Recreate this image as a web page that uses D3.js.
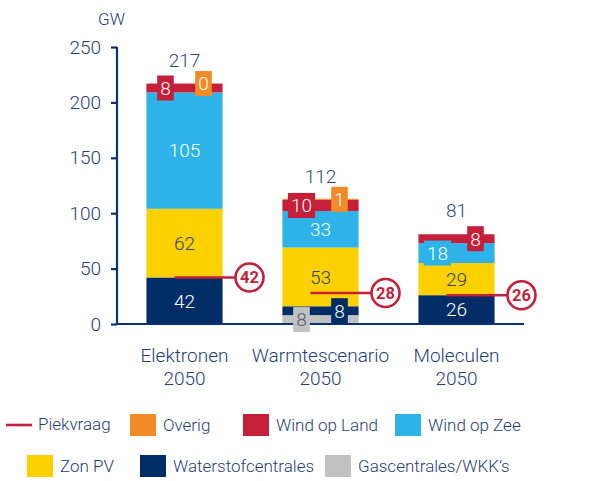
<!DOCTYPE html>
<html><head><meta charset="utf-8">
<script src="https://cdn.jsdelivr.net/npm/d3@7"></script>
<style>body{margin:0;background:#fff}svg{display:block;font-family:Roboto,"Liberation Sans",sans-serif;font-weight:300}</style>
</head><body>
<svg id="c" width="614" height="481"></svg>
<script>
const categories = ["Elektronen|2050", "Warmtescenario|2050", "Moleculen|2050"];
const seriesNames = ["Gascentrales/WKK’s", "Waterstofcentrales", "Zon PV", "Wind op Zee", "Wind op Land", "Overig"];
const gascentrales = [null, 8, null];
const waterstof = [42, 8, 26];
const zonPV = [62, 53, 29];
const windOpZee = [105, 33, 18];
const windOpLand = [8, 10, 8];
const overig = [0, 1, null];
const totals = [217, 112, 81];
const piekvraag = [42, 28, 26];
const yTicks = [0, 50, 100, 150, 200, 250];

const seriesValues = [gascentrales, waterstof, zonPV, windOpZee, windOpLand, overig];
const colors = ["#c1c1c1", "#002d66", "#fdd000", "#2db3e8", "#c61f3a", "#f28a26"];
const labelColors = ["#4d5d78", "#ffffff", "#2a4776", "#ffffff", "#ffffff", "#ffffff"];
const navyText = "#1f3e78";
const axisColor = "#0b3272";
const red = "#c61f3a";

const svg = d3.select("#c");
const x = d3.scaleBand().domain(categories).range([116.5, 524.5]).paddingInner(0.44).paddingOuter(0.22);
const y = d3.scaleLinear().domain([0, 250]).range([324, 47]);

const stackData = categories.map((c, i) => {
  const o = {cat: c, i};
  seriesNames.forEach((s, k) => o[s] = seriesValues[k][i] || 0);
  return o;
});
const stack = d3.stack().keys(seriesNames)(stackData);

const g = svg.append("g");
stack.forEach((layer, k) => {
  g.selectAll(null).data(layer).enter().append("rect")
    .attr("x", d => x(d.data.cat))
    .attr("width", x.bandwidth())
    .attr("y", d => y(d[1]))
    .attr("height", d => Math.max(0, y(d[0]) - y(d[1])))
    .attr("fill", colors[k]);
});

// axes
const yAxis = d3.axisLeft(y).tickValues(yTicks).tickSize(6).tickPadding(10);
const ya = svg.append("g").attr("transform", "translate(117,0)").call(yAxis);
ya.select(".domain").attr("stroke", axisColor).attr("stroke-width", 2.2).attr("d", "M0," + y(250) + "V" + y(0));
ya.selectAll(".tick line").attr("stroke", axisColor).attr("stroke-width", 2.2);
ya.selectAll(".tick text").attr("fill", navyText).attr("font-size", 19).attr("font-family", "Roboto").attr("font-weight", 300);
svg.append("line").attr("x1", 116).attr("x2", 524).attr("y1", y(0)).attr("y2", y(0))
  .attr("stroke", axisColor).attr("stroke-width", 2.2);
svg.append("text").attr("x", 98).attr("y", 25).attr("fill", navyText).attr("font-size", 17).text("GW");

// category labels
categories.forEach(c => {
  const parts = c.split("|");
  const t = svg.append("text").attr("text-anchor", "middle").attr("fill", navyText).attr("font-size", 19);
  t.append("tspan").attr("x", x(c) + x.bandwidth() / 2).attr("y", 361.5).text(parts[0]);
  t.append("tspan").attr("x", x(c) + x.bandwidth() / 2).attr("y", 385).text(parts[1]);
});

// segment labels
const lab = svg.append("g").attr("font-size", 19);
categories.forEach((c, i) => {
  const cx = x(c) + x.bandwidth() / 2;
  let side = -1;
  stack.forEach((layer, k) => {
    const v = seriesValues[k][i];
    if (v === null || v === undefined) return;
    const d = layer[i];
    const cy = (y(d[0]) + y(d[1])) / 2;
    if (v < 20) {
      const lx = cx + side * 19;
      side = -side;
      const tw = String(v).length * 10.6;
      lab.append("rect").attr("x", lx - tw / 2 - 3).attr("width", tw + 6)
        .attr("y", cy - 12.5).attr("height", 25).attr("fill", colors[k]);
      lab.append("text").attr("x", lx).attr("y", cy).attr("dy", "0.36em").attr("text-anchor", "middle")
        .attr("fill", labelColors[k]).text(v);
    } else {
      lab.append("text").attr("x", cx).attr("y", cy).attr("dy", "0.36em").attr("text-anchor", "middle")
        .attr("fill", labelColors[k]).text(v);
    }
  });
  lab.append("text").attr("x", cx).attr("y", y(totals[i]) - 17).attr("text-anchor", "middle")
    .attr("fill", "#2a4a80").text(totals[i]);
});

// piekvraag
categories.forEach((c, i) => {
  const cx = x(c) + x.bandwidth() / 2;
  const py = y(piekvraag[i]);
  const ccx = cx + 65;
  svg.append("line").attr("x1", cx - 10).attr("x2", ccx - 14).attr("y1", py).attr("y2", py)
    .attr("stroke", red).attr("stroke-width", 2.6);
  svg.append("circle").attr("cx", ccx).attr("cy", py).attr("r", 14).attr("fill", "#fff")
    .attr("stroke", red).attr("stroke-width", 2.6);
  svg.append("text").attr("x", ccx).attr("y", py).attr("dy", "0.36em").attr("text-anchor", "middle")
    .attr("fill", red).attr("font-weight", "bold").attr("font-size", 16.5).text(piekvraag[i]);
});

// legend
const legendItems = [
  {name: "Piekvraag", line: true, x: 6, y: 425},
  {name: "Overig", k: 5, x: 130, y: 425},
  {name: "Wind op Land", k: 4, x: 243, y: 425},
  {name: "Wind op Zee", k: 3, x: 395, y: 425},
  {name: "Zon PV", k: 2, x: 27, y: 466},
  {name: "Waterstofcentrales", k: 1, x: 140, y: 466},
  {name: "Gascentrales/WKK’s", k: 0, x: 325, y: 466}
];
const lg = svg.append("g");
legendItems.forEach(it => {
  if (it.line) {
    lg.append("line").attr("x1", it.x).attr("x2", it.x + 26).attr("y1", it.y).attr("y2", it.y)
      .attr("stroke", red).attr("stroke-width", 2.6);
    lg.append("text").attr("x", it.x + 32).attr("y", it.y).attr("dy", "0.3em").attr("fill", navyText)
      .attr("font-size", 17).text(it.name);
  } else {
    lg.append("rect").attr("x", it.x).attr("y", it.y - 11).attr("width", 26).attr("height", 22).attr("fill", colors[it.k]);
    lg.append("text").attr("x", it.x + 33).attr("y", it.y).attr("dy", "0.36em").attr("fill", navyText)
      .attr("font-size", 17).text(it.name);
  }
});
</script>
</body></html>
